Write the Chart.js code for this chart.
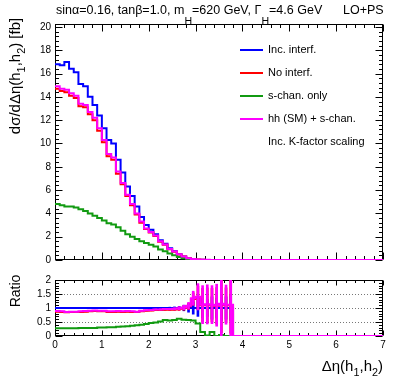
<!DOCTYPE html>
<html>
<head>
<meta charset="utf-8">
<script src="https://cdn.jsdelivr.net/npm/chart.js@4.4.1/dist/chart.umd.min.js"></script>
<style>
  html, body { margin: 0; padding: 0; background: #fff; }
  body { width: 399px; height: 383px; position: relative; overflow: hidden;
         font-family: "Liberation Sans", Arial, sans-serif; color: #000; }
  canvas { position: absolute; left: 0; }
  #cMain { top: 0; }
  #cRatio { top: 270px; }
  .txt { position: absolute; white-space: nowrap; line-height: 1; }
  .sub { font-size: 0.85em; position: relative; top: 1.05em; }
  .sub2 { font-size: 0.72em; position: relative; top: 0.5em; }
  .rot { transform: translate(-50%, -50%) rotate(-90deg); }
  .legline { position: absolute; height: 2px; width: 23px; left: 240px; }
  .legtxt { position: absolute; left: 268px; font-size: 11px; white-space: nowrap; line-height: 1; }
</style>
</head>
<body>
<canvas id="cMain" width="399" height="270"></canvas>
<canvas id="cRatio" width="399" height="113"></canvas>

<div class="txt" style="left:56px; top:4px; font-size:12.5px;">sinα=0.16, tanβ=1.0, m<span class="sub">H</span>=620 GeV, Γ<span class="sub">H</span>=4.6 GeV</div>
<div class="txt" style="left:343px; top:4px; font-size:12.5px;">LO+PS</div>
<div class="txt rot" style="left:14px; top:76px; font-size:15px;">dσ/dΔη(h<span class="sub2">1</span>,h<span class="sub2">2</span>) [fb]</div>
<div class="txt rot" style="left:15px; top:291px; font-size:14px;">Ratio</div>
<div class="txt" style="right:16px; top:358px; font-size:15px;">Δη(h<span class="sub2">1</span>,h<span class="sub2">2</span>)</div>
<div id="legend"></div>

<script>
// ===============================
// DATA
// ===============================
const binWidth = 0.1;
const mainYMax = 20.25;
const ratioYMax = 2;

const seriesNames  = ["Inc. interf.", "No interf.", "s-chan. only", "hh (SM) + s-chan."];
const seriesColors = ["#0000ff", "#ff0000", "#119a11", "#ff00ff"];
const legendNote = "Inc. K-factor scaling";

// dσ/dΔη [fb], one value per 0.1 bin
const xsIncInterf = [
  16.8, 16.7, 17.0, 16.4, 16.1, 15.1, 14.9, 14.0, 13.3, 12.4,
  11.3, 10.3, 10.0, 8.6, 7.5, 6.3, 5.5, 4.6, 3.7, 3.0,
  2.6, 2.2, 1.7, 1.4, 1.0, 0.75, 0.5, 0.3, 0.15, 0.07,
  0.03, 0.02, 0.01, 0.01, 0.005, 0.005, 0.003, 0.002, 0, 0,
  0, 0, 0, 0, 0, 0, 0, 0, 0, 0,
  0, 0, 0, 0, 0, 0, 0, 0, 0, 0,
  0, 0, 0, 0, 0, 0, 0, 0, 0, 0
];
const xsNoInterf = [
  14.7, 14.5, 14.4, 14.1, 13.9, 13.2, 13.1, 12.5, 12.0, 11.1,
  10.1, 8.9, 8.6, 7.4, 6.5, 5.5, 4.7, 3.9, 3.2, 2.65,
  2.35, 2.05, 1.57, 1.3, 0.93, 0.7, 0.48, 0.29, 0.16, 0.09,
  0.04, 0.02, 0.01, 0.008, 0.005, 0.005, 0.003, 0.002, 0, 0,
  0, 0, 0, 0, 0, 0, 0, 0, 0, 0,
  0, 0, 0, 0, 0, 0, 0, 0, 0, 0,
  0, 0, 0, 0, 0, 0, 0, 0, 0, 0
];
const xsSchanOnly = [
  4.8, 4.7, 4.6, 4.6, 4.5, 4.35, 4.2, 4.0, 3.8, 3.6,
  3.4, 3.15, 3.05, 2.8, 2.5, 2.2, 2.0, 1.8, 1.6, 1.45,
  1.3, 1.15, 0.9, 0.75, 0.55, 0.4, 0.25, 0.15, 0.06, 0.02,
  0.01, 0, 0, 0, 0, 0, 0, 0, 0, 0,
  0, 0, 0, 0, 0, 0, 0, 0, 0, 0,
  0, 0, 0, 0, 0, 0, 0, 0, 0, 0,
  0, 0, 0, 0, 0, 0, 0, 0, 0, 0
];
const xsHhSchan = [
  14.9, 14.7, 14.6, 14.3, 14.1, 13.4, 13.3, 12.7, 12.2, 11.3,
  10.3, 9.1, 8.8, 7.6, 6.6, 5.6, 4.8, 4.0, 3.3, 2.7,
  2.4, 2.1, 1.6, 1.33, 0.95, 0.72, 0.49, 0.3, 0.16, 0.09,
  0.04, 0.02, 0.012, 0.01, 0.006, 0.006, 0.004, 0.003, 0, 0,
  0, 0, 0, 0, 0, 0, 0, 0, 0, 0,
  0, 0, 0, 0, 0, 0, 0, 0, 0, 0,
  0, 0, 0, 0, 0, 0, 0, 0, 0, 0
];

// ratio to "Inc. interf."
const ratioIncInterf = [
  1, 1, 1, 1, 1, 1, 1, 1, 1, 1,
  1, 1, 1, 1, 1, 1, 1, 1, 1, 1,
  1, 1, 1, 1, 1, 1, 1, 1, 1, 1,
  1, 1, 1, 1, 1, 1, 1, 1, 0, 0,
  0, 0, 0, 0, 0, 0, 0, 0, 0, 0,
  0, 0, 0, 0, 0, 0, 0, 0, 0, 0,
  0, 0, 0, 0, 0, 0, 0, 0, 0, 0
];
const ratioNoInterf = [
  0.87, 0.86, 0.85, 0.86, 0.86, 0.86, 0.87, 0.88, 0.89, 0.88,
  0.88, 0.86, 0.86, 0.87, 0.86, 0.87, 0.86, 0.86, 0.88, 0.9,
  0.91, 0.93, 0.93, 0.94, 0.94, 0.95, 0.97, 1.0, 1.06, 1.32,
  1.36, 1.1, 1.1, 1.1, 1.08, 1.12, 1.1, 1.1, 0, 0,
  0, 0, 0, 0, 0, 0, 0, 0, 0, 0,
  0, 0, 0, 0, 0, 0, 0, 0, 0, 0,
  0, 0, 0, 0, 0, 0, 0, 0, 0, 0
];
const ratioSchanOnly = [
  0.28, 0.28, 0.28, 0.28, 0.28, 0.29, 0.29, 0.29, 0.29, 0.30,
  0.30, 0.31, 0.31, 0.33, 0.34, 0.35, 0.37, 0.38, 0.40, 0.43,
  0.46, 0.48, 0.52, 0.57, 0.55, 0.57, 0.62, 0.58, 0.57, 0.55,
  0.45, 0.14, 0.02, 0.14, 0, 0.04, 0, 0, 0, 0,
  0, 0, 0, 0, 0, 0, 0, 0, 0, 0,
  0, 0, 0, 0, 0, 0, 0, 0, 0, 0,
  0, 0, 0, 0, 0, 0, 0, 0, 0, 0
];
const ratioHhSchan = [
  0.89, 0.88, 0.86, 0.87, 0.87, 0.88, 0.89, 0.9, 0.91, 0.9,
  0.9, 0.88, 0.88, 0.89, 0.88, 0.89, 0.88, 0.87, 0.9, 0.92,
  0.93, 0.95, 0.95, 0.96, 0.96, 0.97, 0.99, 1.02, 1.08, 1.35,
  1.4, 1.12, 1.13, 1.12, 1.1, 1.15, 1.12, 1.12, 0, 0,
  0, 0, 0, 0, 0, 0, 0, 0, 0, 0,
  0, 0, 0, 0, 0, 0, 0, 0, 0, 0,
  0, 0, 0, 0, 0, 0, 0, 0, 0, 0
];

// ratio errors (first 38 bins)
const errIncInterf = [
  0.01, 0.01, 0.01, 0.01, 0.01, 0.01, 0.01, 0.01, 0.01, 0.01,
  0.01, 0.01, 0.01, 0.01, 0.01, 0.01, 0.01, 0.01, 0.01, 0.01,
  0.012, 0.015, 0.02, 0.025, 0.03, 0.04, 0.06, 0.1, 0.15, 0.22,
  0.3, 0.35, 0.3, 0.4, 0.35, 0.45, 0.4, 0.45
];
const errNoInterf = [
  0.01, 0.01, 0.01, 0.01, 0.01, 0.01, 0.01, 0.01, 0.01, 0.01,
  0.01, 0.01, 0.01, 0.01, 0.01, 0.01, 0.01, 0.01, 0.01, 0.01,
  0.012, 0.015, 0.02, 0.025, 0.03, 0.04, 0.06, 0.08, 0.11, 0.22,
  0.42, 0.6, 0.62, 0.6, 0.65, 1.0, 0.62, 1.0
];
const errHhSchan = [
  0.01, 0.01, 0.01, 0.01, 0.01, 0.01, 0.01, 0.01, 0.01, 0.01,
  0.01, 0.01, 0.01, 0.01, 0.01, 0.01, 0.01, 0.01, 0.01, 0.01,
  0.012, 0.015, 0.02, 0.025, 0.03, 0.04, 0.06, 0.08, 0.12, 0.25,
  0.47, 0.68, 0.7, 0.68, 0.75, 1.15, 0.7, 1.15
];

// ===============================
// HELPERS
// ===============================
const FONT = "'Liberation Sans', Arial, sans-serif";

function edge(i) {
  return Math.round(i * binWidth * 1000) / 1000;
}

// step histogram: points on left bin edges + closing point
function histPoints(values) {
  const pts = values.map((v, i) => ({ x: edge(i), y: v }));
  pts.push({ x: edge(values.length), y: values[values.length - 1] });
  return pts;
}

function histDataset(values, idx, order) {
  return {
    type: "line",
    label: seriesNames[idx],
    data: histPoints(values),
    borderColor: seriesColors[idx],
    borderWidth: 2,
    pointRadius: 0,
    stepped: "before",
    fill: false,
    order: order
  };
}

function errDataset(values, errs, idx, order) {
  return {
    type: "bar",
    label: seriesNames[idx] + " err",
    data: errs.map((e, i) => ({ x: edge(i) + binWidth / 2, y: [values[i] - e, values[i] + e] })),
    backgroundColor: seriesColors[idx],
    borderWidth: 0,
    barThickness: 2,
    grouped: false,
    clip: 0,
    order: order
  };
}

// ROOT style frame with inner ticks on all four sides
const rootFrame = {
  id: "rootFrame",
  beforeDatasetsDraw(chart, args, o) {
    const { ctx, chartArea: a, scales } = chart;
    const xs = scales.x, ys = scales.y;
    ctx.save();

    // dotted grid lines
    if (o.yGrid) {
      ctx.strokeStyle = "#777";
      ctx.lineWidth = 1;
      ctx.setLineDash([1, 2]);
      o.yGrid.forEach(v => {
        const py = Math.round(ys.getPixelForValue(v)) + 0.5;
        ctx.beginPath(); ctx.moveTo(a.left, py); ctx.lineTo(a.right, py); ctx.stroke();
      });
      ctx.setLineDash([]);
    }

    ctx.strokeStyle = "#000";
    ctx.lineWidth = 1;
    const L = Math.round(a.left) + 0.5, R = Math.round(a.right) - 0.5;
    const T = Math.round(a.top) + 0.5, B = Math.round(a.bottom) - 0.5;
    ctx.strokeRect(L, T, R - L, B - T);

    ctx.beginPath();
    const nx = Math.round((xs.max - xs.min) / o.xMinor);
    for (let k = 0; k <= nx; k++) {
      const v = xs.min + k * o.xMinor;
      const major = k % o.xPer === 0;
      const len = major ? o.xMajorLen : o.xMinorLen;
      const px = Math.round(xs.getPixelForValue(v)) + 0.5;
      ctx.moveTo(px, B); ctx.lineTo(px, B - len);
      ctx.moveTo(px, T); ctx.lineTo(px, T + len);
    }
    const ny = Math.round((ys.max - ys.min) / o.yMinor);
    for (let k = 0; k <= ny; k++) {
      const v = ys.min + k * o.yMinor;
      if (v > ys.max + 1e-9) break;
      const major = k % o.yPer === 0;
      const len = major ? o.yMajorLen : o.yMinorLen;
      const py = Math.round(ys.getPixelForValue(v)) + 0.5;
      ctx.moveTo(L, py); ctx.lineTo(L + len, py);
      ctx.moveTo(R, py); ctx.lineTo(R - len, py);
    }
    ctx.stroke();
    ctx.restore();
  }
};

// ===============================
// MAIN PANEL
// ===============================
const chartMain = new Chart(document.getElementById("cMain"), {
  type: "line",
  data: {
    datasets: [
      histDataset(xsHhSchan, 3, 0),
      histDataset(xsSchanOnly, 2, 1),
      histDataset(xsNoInterf, 1, 2),
      histDataset(xsIncInterf, 0, 3)
    ]
  },
  options: {
    responsive: false,
    animation: false,
    events: [],
    layout: { padding: { top: 24, right: 16, bottom: 3, left: 0 } },
    plugins: {
      legend: { display: false },
      tooltip: { enabled: false },
      rootFrame: { xMinor: 0.2, xPer: 5, xMajorLen: 7, xMinorLen: 3.5,
                   yMinor: 0.4, yPer: 5, yMajorLen: 7, yMinorLen: 3.5 }
    },
    scales: {
      x: { type: "linear", min: 0, max: 7, offset: false, display: false },
      y: {
        type: "linear", min: 0, max: mainYMax,
        afterFit: s => { s.width = 55; },
        grid: { display: false, drawTicks: false },
        border: { display: false },
        ticks: { stepSize: 2, includeBounds: false, autoSkip: false, padding: 4, color: "#000",
                 font: { family: FONT, size: 10 } }
      }
    }
  },
  plugins: [rootFrame]
});

// ===============================
// RATIO PANEL
// ===============================
const chartRatio = new Chart(document.getElementById("cRatio"), {
  type: "line",
  data: {
    datasets: [
      errDataset(ratioHhSchan, errHhSchan, 3, 0),
      histDataset(ratioHhSchan, 3, 1),
      histDataset(ratioSchanOnly, 2, 2),
      errDataset(ratioNoInterf, errNoInterf, 1, 3),
      histDataset(ratioNoInterf, 1, 4),
      histDataset(ratioIncInterf, 0, 5),
      errDataset(ratioIncInterf, errIncInterf, 0, 6)
    ]
  },
  options: {
    responsive: false,
    animation: false,
    events: [],
    layout: { padding: { top: 6, right: 16, bottom: 0, left: 0 } },
    plugins: {
      legend: { display: false },
      tooltip: { enabled: false },
      rootFrame: { xMinor: 0.2, xPer: 5, xMajorLen: 5, xMinorLen: 2.5,
                   yMinor: 0.1, yPer: 5, yMajorLen: 7, yMinorLen: 3.5,
                   yGrid: [0.5, 1, 1.5] }
    },
    scales: {
      x: {
        type: "linear", min: 0, max: 7, offset: false,
        afterFit: s => { s.height = 47; },
        grid: { display: false, drawTicks: false, offset: false },
        border: { display: false },
        ticks: { stepSize: 1, padding: 3, color: "#000", maxRotation: 0, autoSkip: false,
                 font: { family: FONT, size: 10 } }
      },
      y: {
        type: "linear", min: 0, max: ratioYMax,
        afterFit: s => { s.width = 55; },
        grid: { display: false, drawTicks: false },
        border: { display: false },
        ticks: { stepSize: 0.5, padding: 4, color: "#000", autoSkip: false,
                 callback: v => String(Number(v.toFixed(1))),
                 font: { family: FONT, size: 10 } }
      }
    }
  },
  plugins: [rootFrame]
});

// ===============================
// LEGEND
// ===============================
const legendBox = document.getElementById("legend");
const legendRowY = [50, 73, 96, 119, 142];
[0, 1, 2, 3].forEach((idx, r) => {
  const line = document.createElement("div");
  line.className = "legline";
  line.style.top = (legendRowY[r] - 1) + "px";
  line.style.background = seriesColors[idx];
  legendBox.appendChild(line);
  const t = document.createElement("div");
  t.className = "legtxt";
  t.style.top = (legendRowY[r] - 6) + "px";
  t.textContent = seriesNames[idx];
  legendBox.appendChild(t);
});
const note = document.createElement("div");
note.className = "legtxt";
note.style.top = (legendRowY[4] - 6) + "px";
note.textContent = legendNote;
legendBox.appendChild(note);
</script>
</body>
</html>
